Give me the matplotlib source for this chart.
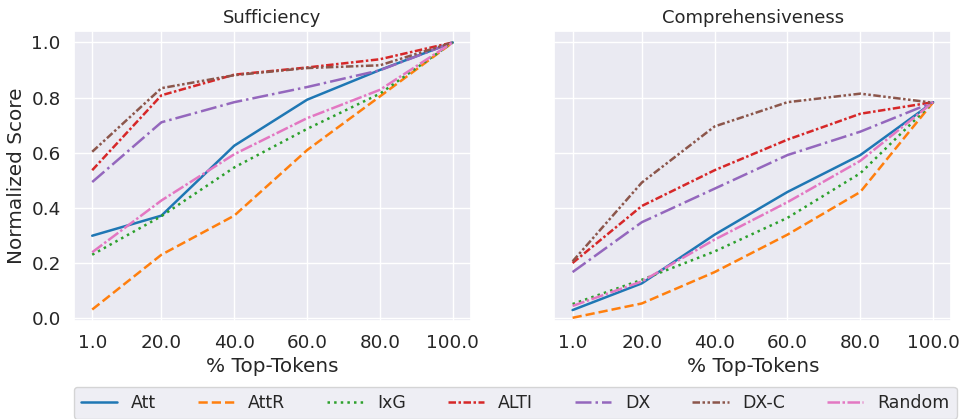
import numpy as np
import matplotlib.pyplot as plt
import seaborn as sns

sns.set_theme(style="darkgrid", font_scale=1.2)

x = [1, 20, 40, 60, 80, 100]
tick_labels = ["1.0", "20.0", "40.0", "60.0", "80.0", "100.0"]
names = ["Att", "AttR", "IxG", "ALTI", "DX", "DX-C", "Random"]
styles = ["-", "--", ":", (0, (3, 1, 1, 1)), "-.", (0, (3, 1, 1, 1, 1, 1)), (0, (5, 1, 1, 1))]

suff_att = [0.298, 0.371, 0.625, 0.792, 0.90, 1.0]
suff_attr = [0.03, 0.229, 0.371, 0.609, 0.804, 1.0]
suff_ixg = [0.229, 0.369, 0.546, 0.686, 0.814, 1.0]
suff_alti = [0.536, 0.808, 0.883, 0.909, 0.939, 1.0]
suff_dx = [0.493, 0.710, 0.783, 0.838, 0.899, 1.0]
suff_dxc = [0.603, 0.834, 0.881, 0.907, 0.917, 1.0]
suff_rand = [0.238, 0.426, 0.594, 0.725, 0.828, 1.0]

comp_att = [0.028, 0.125, 0.302, 0.457, 0.591, 0.783]
comp_attr = [0.0, 0.052, 0.166, 0.302, 0.457, 0.783]
comp_ixg = [0.05, 0.138, 0.241, 0.363, 0.525, 0.783]
comp_alti = [0.199, 0.406, 0.536, 0.647, 0.741, 0.783]
comp_dx = [0.166, 0.347, 0.469, 0.591, 0.676, 0.783]
comp_dxc = [0.205, 0.491, 0.695, 0.783, 0.814, 0.781]
comp_rand = [0.043, 0.132, 0.284, 0.42, 0.57, 0.783]

suff = [suff_att, suff_attr, suff_ixg, suff_alti, suff_dx, suff_dxc, suff_rand]
comp = [comp_att, comp_attr, comp_ixg, comp_alti, comp_dx, comp_dxc, comp_rand]
colors = sns.color_palette("tab10")[:7]

fig, axes = plt.subplots(1, 2, figsize=(9.61, 4.19), dpi=100, sharey=True)
for ax, data, title in zip(axes, [suff, comp], ["Sufficiency", "Comprehensiveness"]):
    for i, ys in enumerate(data):
        ax.plot(x, ys, linestyle=styles[i], color=colors[i], linewidth=1.8, label=names[i])
    ax.set_title(title, fontsize=13)
    ax.set_xticks(x)
    ax.set_xticklabels(tick_labels)
    ax.set_xlabel("% Top-Tokens")
    ax.set_yticks([0, 0.2, 0.4, 0.6, 0.8, 1.0])
    ax.set_xlim(-4, 105)
    ax.set_ylim(-0.01, 1.04)
axes[0].set_ylabel("Normalized Score")

handles, labels = axes[0].get_legend_handles_labels()
fig.legend(handles, labels, loc="lower center", ncol=7, bbox_to_anchor=(0.536, -0.02),
           handlelength=2.1, handletextpad=0.8, columnspacing=2.4, fontsize=12.5)
fig.subplots_adjust(left=0.077, right=0.99, top=0.925, bottom=0.235, wspace=0.21)
plt.savefig("out.png")
